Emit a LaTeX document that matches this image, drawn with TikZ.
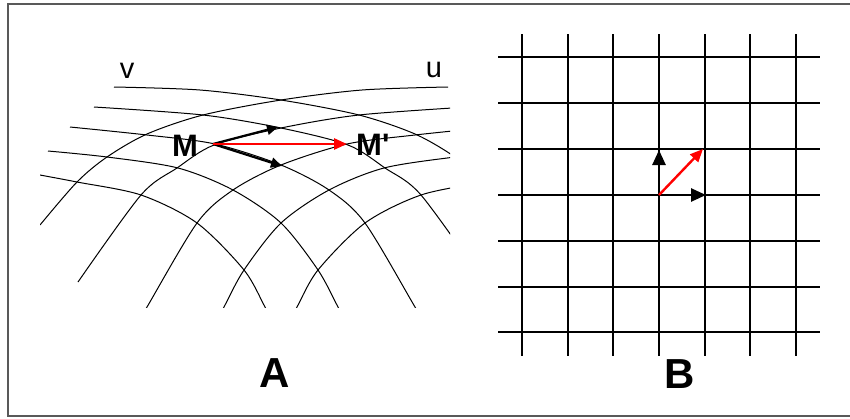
\documentclass[tikz,border=0pt]{standalone}
\usepackage{fontspec}
\setmainfont{Liberation Sans}
\usetikzlibrary{arrows.meta}
\newcommand\vcurveset{%
  \draw[curve] plot[smooth] coordinates {(114,87) (200,90) (281,100) (359,115) (415,134) (455,157) (485,182) (522,225)};
  \draw[curve] plot[smooth] coordinates {(94,107) (203,115) (281,128) (348,145) (385,168) (421,195) (484,282)};
  \draw[curve] plot[smooth] coordinates {(70,127) (147,135) (215,144) (281,165) (329,190) (365,223) (415,307) (427,327)};
  \draw[curve] plot[smooth] coordinates {(48,151) (107,157) (178,168) (233,190) (281,223) (318,270) (338,307) (349,327)};
  \draw[curve] plot[smooth] coordinates {(30,173) (40,175) (77,182) (141,195) (197,223) (244,270) (265,307) (276,327)};
}
\begin{document}
\begin{tikzpicture}[x=1pt,y=-1pt,
  curve/.style={line width=1pt},
  gridline/.style={line width=2pt},
  frameline/.style={line width=2pt, draw=black!65},
  blackvec/.style={line width=2.2pt, -{Triangle[length=11pt,width=10pt]}},
  blackvecB/.style={line width=2.6pt, -{Triangle[length=15pt,width=13pt]}},
  redvec/.style={line width=2.8pt, draw=red, -{Triangle[length=13pt,width=11pt]}},
  redvecB/.style={line width=2.4pt, draw=red, -{Triangle[length=13pt,width=11pt]}},
  lab/.style={inner sep=0pt, anchor=base, font=\fontsize{29}{32}\selectfont},
  boldlab/.style={inner sep=0pt, anchor=base, font=\fontsize{31}{34}\selectfont\bfseries},
  biglab/.style={inner sep=0pt, anchor=base, font=\fontsize{42}{46}\selectfont\bfseries}
]
\useasboundingbox (0,0) rectangle (850,418);
% frame (open on the right)
\draw[frameline] (850,3.5) -- (8,3.5) -- (8,415.5) -- (850,415.5);

% ---- A: curvilinear net ----
\begin{scope}
  \clip (40,40) rectangle (450,307);
  \vcurveset
  \begin{scope}[xshift=562pt, xscale=-1]
    \vcurveset
  \end{scope}
\end{scope}

\node[lab] (vlab) at (127,78) {v};
\node[lab] (ulab) at (434,77) {u};
\node[boldlab] (Mlab) at (185,156) {M};
\node[boldlab, anchor=base west] (Mplab) at (356,155) {M\textquotesingle};

\coordinate (M0) at (213,144);
\coordinate (Mp) at (347,144);
\coordinate (tu) at (278,127);
\coordinate (tv) at (282,166);
\draw[blackvec] (M0) -- (tu);
\draw[blackvec] (M0) -- (tv);
\draw[redvec] (M0) -- (Mp);

\node[biglab] (Alab) at (275,387) {A};

% ---- B: square grid ----
\foreach \xx in {522,568,613,659,705,750,796} {
  \draw[gridline] (\xx,34) -- (\xx,356);
}
\foreach \yy in {57,103,149,195,241,287,332} {
  \draw[gridline] (498,\yy) -- (820,\yy);
}
\coordinate (O) at (659,195);
\coordinate (Ox) at (706,195);
\coordinate (Oy) at (659,150);
\coordinate (Oxy) at (703,149);
\draw[blackvecB] (O) -- (Ox);
\draw[blackvecB] (O) -- (Oy);
\draw[redvecB] (O) -- (Oxy);

\node[biglab] (Blab) at (680,388) {B};
\end{tikzpicture}
\end{document}
